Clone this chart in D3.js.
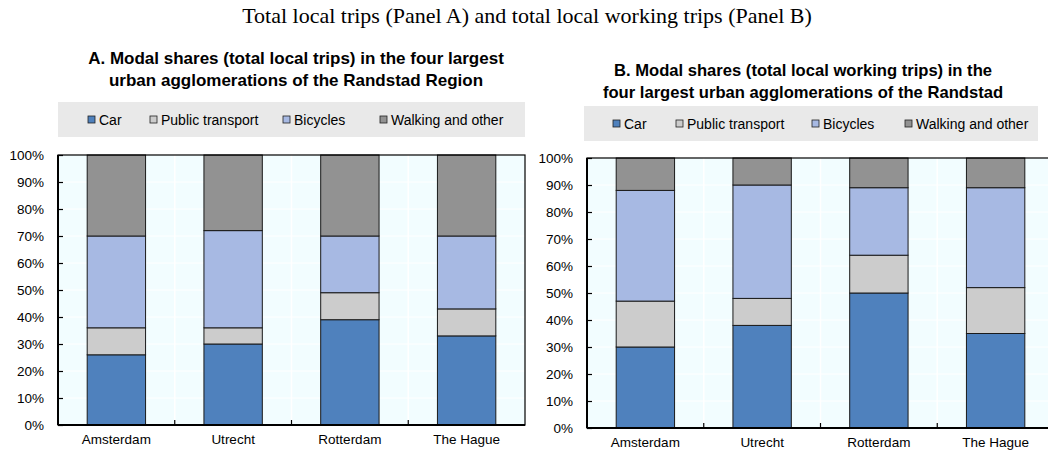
<!DOCTYPE html>
<html>
<head>
<meta charset="utf-8">
<script src="https://cdn.jsdelivr.net/npm/d3@7"></script>
<style>
  body { margin: 0; background: #fff; }
  svg { display: block; font-family: "Liberation Sans", Arial, sans-serif; }
</style>
</head>
<body>
<svg id="chart" width="1048" height="454"></svg>
<script>
// data
const cities = ["Amsterdam", "Utrecht", "Rotterdam", "The Hague"];
const modes = ["Car", "Public transport", "Bicycles", "Walking and other"];
const yTicks = [0, 10, 20, 30, 40, 50, 60, 70, 80, 90, 100];

// Panel A, total local trips (%)
const carA = [26, 30, 39, 33];
const ptA = [10, 6, 10, 10];
const bikeA = [34, 36, 21, 27];
const walkA = [30, 28, 30, 30];

// Panel B, total local working trips (%)
const carB = [30, 38, 50, 35];
const ptB = [17, 10, 14, 17];
const bikeB = [41, 42, 25, 37];
const walkB = [12, 10, 11, 11];

const colors = ["#4f81bd", "#cccccc", "#a7b9e3", "#929292"];

const svg = d3.select("#chart");

svg.append("text")
    .attr("x", 527)
    .attr("y", 23)
    .attr("text-anchor", "middle")
    .style("font-family", "'Liberation Serif', 'Times New Roman', serif")
    .style("font-size", "22px")
    .text("Total local trips (Panel A) and total local working trips (Panel B)");

function drawPanel(cfg) {
    let table = cities.map((c, i) => ({
        city: c,
        "Car": cfg.series[0][i],
        "Public transport": cfg.series[1][i],
        "Bicycles": cfg.series[2][i],
        "Walking and other": cfg.series[3][i]
    }));
    let stacked = d3.stack().keys(modes)(table);

    let g = svg.append("g");

    // title
    let title = g.append("text")
        .attr("text-anchor", "middle")
        .style("font-weight", "bold")
        .style("font-size", cfg.titleSize);
    cfg.title.forEach((t, i) => {
        title.append("tspan")
            .attr("x", cfg.titleX)
            .attr("y", cfg.titleY + i * 22)
            .text(t);
    });

    // legend box
    g.append("rect")
        .attr("x", cfg.legend.x)
        .attr("y", cfg.legend.y)
        .attr("width", cfg.legend.w)
        .attr("height", 35)
        .attr("fill", "#e9e9e9");

    modes.forEach((m, i) => {
        let lx = cfg.legend.items[i];
        g.append("rect")
            .attr("x", lx)
            .attr("y", cfg.legend.y + 14)
            .attr("width", 7)
            .attr("height", 7)
            .attr("fill", colors[i])
            .attr("stroke", "#222")
            .attr("stroke-width", 0.8);
        g.append("text")
            .attr("x", lx + 11)
            .attr("y", cfg.legend.y + 23)
            .style("font-size", "14px")
            .text(m);
    });

    let x = d3.scaleBand()
        .domain(cities)
        .range([cfg.left, cfg.right])
        .paddingInner(0.5)
        .paddingOuter(0.25);
    let y = d3.scaleLinear()
        .domain([0, 100])
        .range([cfg.bottom, cfg.top]);

    // plot background
    g.append("rect")
        .attr("x", cfg.left)
        .attr("y", cfg.top)
        .attr("width", cfg.right - cfg.left)
        .attr("height", cfg.bottom - cfg.top)
        .attr("fill", "#f2fdff");

    // faint grid
    g.append("g")
        .selectAll("line")
        .data(yTicks.slice(1, -1))
        .join("line")
        .attr("x1", cfg.left)
        .attr("x2", cfg.right)
        .attr("y1", d => y(d))
        .attr("y2", d => y(d))
        .attr("stroke", "#ffffff")
        .attr("stroke-width", 1);

    let step = x.step();
    g.append("g")
        .selectAll("line")
        .data(cities.slice(1))
        .join("line")
        .attr("x1", d => x(d) - step * 0.25)
        .attr("x2", d => x(d) - step * 0.25)
        .attr("y1", cfg.top)
        .attr("y2", cfg.bottom)
        .attr("stroke", "#ffffff")
        .attr("stroke-width", 1.5);

    // bars
    g.append("g")
        .selectAll("g")
        .data(stacked)
        .join("g")
        .attr("fill", (d, i) => colors[i])
        .selectAll("rect")
        .data(d => d)
        .join("rect")
        .attr("x", d => x(d.data.city))
        .attr("y", d => y(d[1]))
        .attr("width", x.bandwidth())
        .attr("height", d => y(d[0]) - y(d[1]))
        .attr("stroke", "#1a1a1a")
        .attr("stroke-width", 1);

    // frame
    g.append("rect")
        .attr("x", cfg.left)
        .attr("y", cfg.top)
        .attr("width", cfg.right - cfg.left)
        .attr("height", cfg.bottom - cfg.top)
        .attr("fill", "none")
        .attr("stroke", "#000")
        .attr("stroke-width", 1.2);
    g.append("line")
        .attr("x1", cfg.left)
        .attr("x2", cfg.right)
        .attr("y1", cfg.bottom)
        .attr("y2", cfg.bottom)
        .attr("stroke", "#000")
        .attr("stroke-width", 2);
    g.append("line")
        .attr("x1", cfg.left)
        .attr("x2", cfg.left)
        .attr("y1", cfg.top)
        .attr("y2", cfg.bottom)
        .attr("stroke", "#000")
        .attr("stroke-width", 2);

    // y axis
    let yAxis = d3.axisLeft(y)
        .tickValues(yTicks)
        .tickSize(-5)
        .tickPadding(14)
        .tickFormat(d => d + "%");
    let ya = g.append("g")
        .attr("transform", `translate(${cfg.left},0)`)
        .call(yAxis);
    ya.select(".domain").remove();
    ya.selectAll("text")
        .style("font-size", "13.5px")
        .style("font-family", "'Liberation Sans', Arial, sans-serif")
        .attr("fill", "#000");
    ya.selectAll(".tick line").attr("stroke", "#000").attr("stroke-width", 1.2);

    // x axis, ticks at category boundaries
    let xa = g.append("g")
        .attr("transform", `translate(0,${cfg.bottom})`)
        .call(d3.axisBottom(x).tickSize(0).tickPadding(9));
    xa.select(".domain").remove();
    xa.selectAll("text")
        .style("font-size", "13.5px")
        .style("font-family", "'Liberation Sans', Arial, sans-serif")
        .attr("fill", "#000");
    g.append("g")
        .selectAll("line")
        .data(cities.slice(1))
        .join("line")
        .attr("x1", d => x(d) - step * 0.25)
        .attr("x2", d => x(d) - step * 0.25)
        .attr("y1", cfg.bottom)
        .attr("y2", cfg.bottom - 5)
        .attr("stroke", "#000")
        .attr("stroke-width", 1.2);
}

drawPanel({
    series: [carA, ptA, bikeA, walkA],
    title: ["A. Modal shares (total local trips) in the four largest",
            "urban agglomerations of the Randstad Region"],
    titleX: 296,
    titleY: 64,
    titleSize: "17px",
    legend: { x: 58, y: 102, w: 467, items: [88, 150, 283, 380] },
    left: 58, right: 525, top: 155, bottom: 425
});

drawPanel({
    series: [carB, ptB, bikeB, walkB],
    title: ["B. Modal shares (total local working trips) in the",
            "four largest urban agglomerations of the Randstad"],
    titleX: 803,
    titleY: 76,
    titleSize: "16.6px",
    legend: { x: 584, y: 106, w: 454, items: [613, 676, 812, 905] },
    left: 587, right: 1054, top: 158, bottom: 428
});
</script>
</body>
</html>
